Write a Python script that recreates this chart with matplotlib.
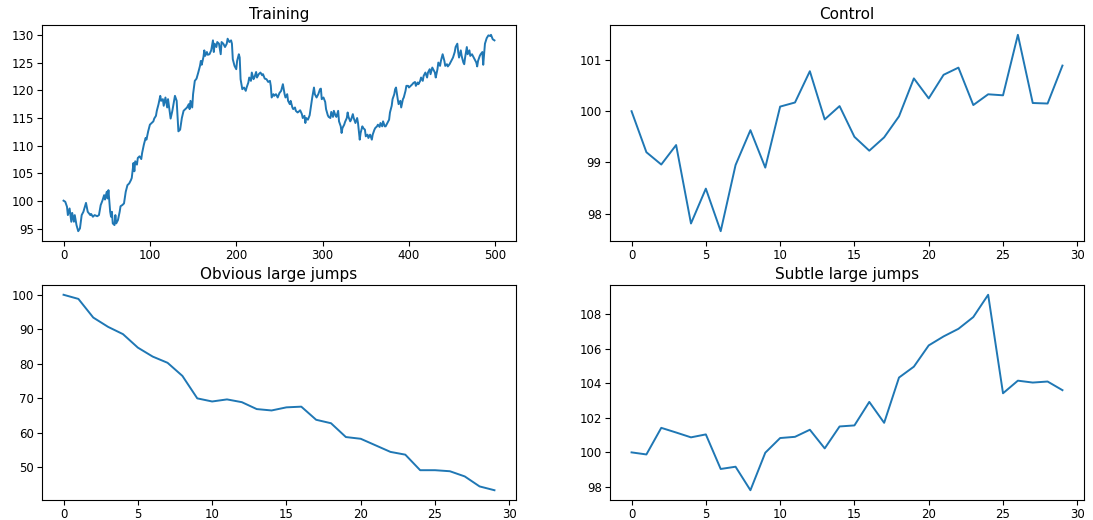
import matplotlib
matplotlib.use("Agg")
import matplotlib.pyplot as plt
from matplotlib.ticker import MultipleLocator

# Training path: sampled time steps and prices
train_t = [0, 2, 4, 5, 7, 9, 10, 12, 13, 15, 17, 19, 21, 23, 26, 28, 31, 32, 34, 36,
           39, 41, 43, 45, 47, 48, 50, 51, 52, 54, 55, 56, 57, 59, 60, 61, 63, 65, 66, 68,
           70, 72, 74, 76, 78, 79, 81, 82, 83, 85, 86, 88, 90, 91, 93, 95, 96, 98, 100, 102,
           104, 105, 107, 108, 110, 112, 113, 115, 116, 118, 120, 121, 123, 124, 126, 128, 129, 131, 132, 133,
           135, 137, 139, 141, 143, 145, 146, 147, 149, 150, 152, 154, 156, 158, 159, 160, 162, 163, 164, 166,
           167, 169, 171, 173, 174, 175, 177, 178, 180, 182, 183, 185, 187, 189, 190, 192, 194, 195, 196, 198,
           200, 201, 203, 204, 205, 207, 209, 211, 212, 214, 215, 217, 218, 220, 221, 223, 224, 226, 228, 230,
           231, 233, 235, 237, 239, 240, 241, 243, 244, 246, 248, 250, 252, 254, 256, 257, 259, 260, 262, 263,
           265, 266, 268, 269, 271, 272, 274, 276, 277, 279, 280, 281, 283, 285, 286, 288, 290, 291, 293, 295,
           297, 298, 299, 301, 303, 304, 306, 307, 309, 310, 312, 313, 315, 316, 318, 319, 321, 322, 323, 325,
           326, 328, 329, 330, 332, 333, 335, 336, 338, 340, 341, 343, 344, 346, 347, 349, 350, 352, 353, 355,
           357, 358, 360, 361, 363, 364, 366, 367, 369, 370, 372, 373, 375, 377, 378, 380, 381, 383, 384, 385,
           387, 388, 390, 391, 393, 394, 396, 397, 399, 400, 402, 404, 405, 407, 408, 410, 411, 413, 414, 416,
           417, 419, 421, 422, 424, 425, 427, 428, 430, 431, 433, 434, 436, 437, 439, 441, 442, 444, 445, 447,
           448, 450, 451, 453, 454, 456, 457, 458, 460, 461, 463, 464, 465, 467, 468, 470, 471, 473, 475, 476,
           478, 479, 480, 482, 483, 485, 486, 487, 488, 490, 492, 494, 495, 497, 499]
train_v = [100.1, 99.9, 99.0, 97.5, 98.7, 96.3, 97.9, 96.3, 97.5, 95.7, 94.6, 95.1, 97.5, 98.1, 99.7, 98.1, 97.5, 97.7, 97.2, 97.5,
           97.3, 97.5, 99.3, 100.1, 101.1, 100.3, 101.7, 100.5, 102.0, 98.1, 97.2, 98.1, 96.0, 95.7, 97.5, 96.0, 96.6, 98.1, 99.1, 99.3,
           99.6, 101.7, 102.9, 103.2, 103.8, 104.2, 106.9, 105.4, 107.2, 106.6, 107.8, 108.1, 107.6, 108.7, 110.2, 111.4, 111.1, 112.6, 113.8, 114.1,
           114.4, 114.9, 115.4, 116.3, 117.5, 119.0, 118.1, 118.4, 117.2, 118.7, 116.9, 118.4, 116.0, 114.9, 116.3, 118.1, 119.0, 118.1, 115.4, 112.6,
           112.9, 115.0, 116.3, 116.6, 116.9, 117.5, 116.6, 118.1, 116.9, 119.3, 121.7, 122.1, 123.2, 124.4, 125.3, 124.6, 126.0, 127.2, 126.2, 126.9,
           126.4, 126.5, 127.2, 129.0, 126.9, 128.4, 127.8, 128.7, 128.4, 126.5, 128.7, 128.4, 127.8, 128.4, 129.3, 128.7, 129.0, 128.4, 125.6, 124.4,
           123.8, 125.3, 126.5, 125.9, 122.0, 120.2, 120.5, 119.9, 120.5, 121.4, 122.3, 121.7, 123.2, 122.0, 122.3, 123.3, 122.3, 122.9, 123.2, 122.7,
           122.9, 122.1, 122.0, 121.5, 121.7, 120.8, 118.7, 119.3, 119.0, 119.3, 118.7, 119.5, 119.9, 121.1, 119.3, 118.7, 119.3, 118.1, 117.5, 118.1,
           116.9, 116.6, 116.9, 116.3, 116.0, 116.1, 116.4, 115.7, 115.0, 115.4, 114.1, 115.0, 114.7, 115.5, 116.6, 118.7, 120.5, 119.3, 118.7, 119.3,
           120.2, 120.3, 118.4, 118.7, 117.9, 116.6, 115.5, 115.2, 115.0, 116.1, 115.2, 116.3, 115.4, 115.2, 116.3, 114.4, 113.5, 112.3, 113.2, 113.8,
           114.3, 115.0, 116.0, 115.2, 114.4, 114.7, 115.7, 115.0, 114.1, 115.0, 114.1, 111.1, 112.3, 113.5, 113.2, 112.9, 111.7, 112.0, 111.4, 112.0,
           111.1, 112.0, 112.9, 113.2, 113.5, 113.8, 113.4, 114.1, 113.5, 114.4, 113.5, 113.5, 114.1, 114.7, 116.0, 117.2, 118.4, 119.3, 120.2, 120.5,
           118.4, 117.5, 118.1, 116.9, 118.4, 118.7, 119.9, 120.8, 120.8, 120.5, 120.8, 121.1, 121.3, 121.5, 120.8, 121.4, 121.1, 121.7, 122.3, 121.7,
           122.6, 123.2, 122.3, 123.2, 123.8, 122.9, 124.1, 123.8, 123.2, 122.3, 123.8, 125.0, 124.4, 125.3, 126.5, 125.3, 124.4, 124.7, 124.3, 124.7,
           125.0, 125.6, 125.9, 126.9, 127.8, 128.4, 126.9, 125.9, 127.2, 126.2, 125.0, 124.7, 125.9, 127.8, 126.5, 127.2, 126.2, 126.5, 125.9, 125.6,
           125.0, 124.3, 125.3, 126.2, 126.5, 126.9, 124.6, 126.5, 128.4, 129.4, 129.9, 129.8, 130.0, 129.2, 129.0]

# Test paths: 30 steps each
steps = list(range(30))
control = [100.00, 99.20, 98.96, 99.34, 97.81, 98.49, 97.66, 98.95, 99.63, 98.90,
           100.09, 100.17, 100.78, 99.84, 100.10, 99.50, 99.23, 99.49, 99.90, 100.64,
           100.25, 100.71, 100.85, 100.12, 100.33, 100.31, 101.49, 100.16, 100.15, 100.89]
obvious_jumps = [100.0, 98.8, 93.4, 90.7, 88.6, 84.7, 82.1, 80.3, 76.5, 70.0,
                 69.1, 69.7, 68.9, 66.9, 66.5, 67.4, 67.6, 63.8, 62.8, 58.8,
                 58.3, 56.4, 54.5, 53.7, 49.2, 49.2, 48.9, 47.4, 44.5, 43.4]
subtle_jumps = [100.00, 99.88, 101.42, 101.15, 100.87, 101.04, 99.04, 99.17, 97.81, 99.98,
                100.83, 100.90, 101.31, 100.23, 101.50, 101.56, 102.92, 101.71, 104.33, 104.96,
                106.19, 106.71, 107.15, 107.83, 109.12, 103.42, 104.15, 104.04, 104.10, 103.60]

W, H = 1093, 520
fig = plt.figure(figsize=(W / 100, H / 100), dpi=100)

def box(x0, y0, x1, y1):
    return [x0 / W, 1 - y1 / H, (x1 - x0) / W, (y1 - y0) / H]

panels = [
    (box(42, 25, 516, 241), train_t, train_v, "Training", None),
    (box(610, 25, 1084, 241), steps, control, "Control", 1),
    (box(42, 285, 516, 500), steps, obvious_jumps, "Obvious large jumps", None),
    (box(610, 285, 1084, 500), steps, subtle_jumps, "Subtle large jumps", None),
]

for rect, xs, ys, title, ystep in panels:
    ax = fig.add_axes(rect)
    ax.plot(xs, ys, color="#1f77b4", linewidth=1.4)
    ax.set_title(title, fontsize=11, pad=4)
    ax.tick_params(labelsize=8.5, length=3.5, width=0.8, pad=2.5)
    if ystep:
        ax.yaxis.set_major_locator(MultipleLocator(ystep))
    for s in ax.spines.values():
        s.set_linewidth(0.8)

fig.savefig("out.png", dpi=100)
